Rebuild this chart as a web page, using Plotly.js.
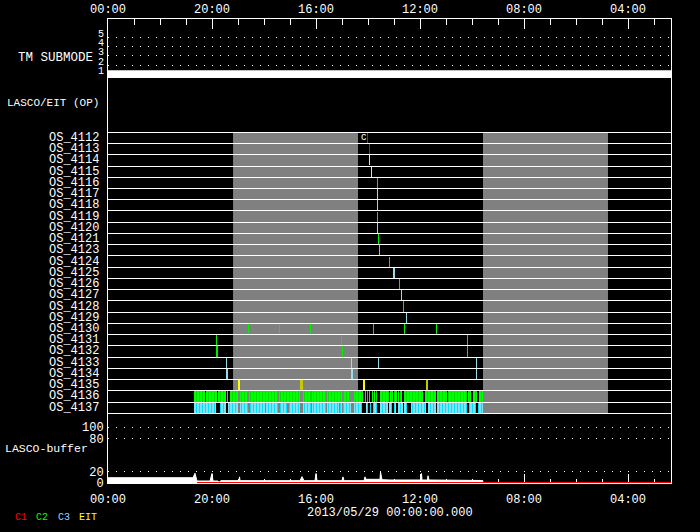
<!DOCTYPE html>
<html><head><meta charset="utf-8">
<script src="https://cdn.plot.ly/plotly-3.0.1.min.js"></script>
<style>html,body{margin:0;padding:0;background:#000;}#chart{width:700px;height:532px;}</style>
</head><body><div id="chart"></div>
<script>
// ---------------- data ----------------
const xTickVals = [24, 20, 16, 12, 8, 4];
const xTickText = ['00:00', '20:00', '16:00', '12:00', '08:00', '04:00'];
const dateLabel = '2013/05/29 00:00:00.000';

const tmTimes = [24, 0];
const tmValues = [1, 1];
const tmTickVals = [1, 2, 3, 4, 5];

const osRows = ['OS_4112','OS_4113','OS_4114','OS_4115','OS_4116','OS_4117','OS_4118','OS_4119',
  'OS_4120','OS_4121','OS_4123','OS_4124','OS_4125','OS_4126','OS_4127','OS_4128','OS_4129',
  'OS_4130','OS_4131','OS_4132','OS_4133','OS_4134','OS_4135','OS_4136','OS_4137'];

// shaded intervals (hours)
const grayStart = [19.19, 9.577];
const grayEnd = [14.385, 4.77];

// single observations: row, time (hours), duration (minutes)
const c1Rows = ['OS_4112', 'OS_4113'];
const c1Times = [14.027, 13.950];
const c1Dur = [2.5, 2.5];

const eitRows = ['OS_4114', 'OS_4115', 'OS_4135', 'OS_4135'];
const eitTimes = [13.950, 13.873, 18.973, 14.154];
const eitDur = [2.5, 2.5, 4, 4];

const eitAltRows = ['OS_4123', 'OS_4135', 'OS_4135'];
const eitAltTimes = [13.565, 16.565, 11.730];
const eitAltDur = [2.5, 6, 5];

const c2Rows = ['OS_4116','OS_4119','OS_4121','OS_4124','OS_4126','OS_4128',
  'OS_4130','OS_4130','OS_4130','OS_4130','OS_4130','OS_4130',
  'OS_4131','OS_4131','OS_4131','OS_4132','OS_4132','OS_4132'];
const c2Times = [13.642, 13.642, 13.604, 13.181, 12.796, 12.642,
  18.604, 17.412, 16.219, 13.796, 12.604, 11.373,
  19.835, 15.027, 10.181, 19.819, 14.988, 10.181];
const c2Dur = [2.5,2.5,2.5,2.5,2.5,2.5, 2.5,2.5,2.5,2.5,2.5,2.5, 2.5,2.5,2.5, 4,2.5,2.5];

const c3Rows = ['OS_4117','OS_4118','OS_4120','OS_4125','OS_4127','OS_4129',
  'OS_4133','OS_4133','OS_4133','OS_4133','OS_4134','OS_4134','OS_4134'];
const c3Times = [13.642, 13.642, 13.642, 13.000, 12.719, 12.527,
  19.450, 14.642, 13.604, 9.835, 19.423, 14.615, 9.819];
const c3Dur = [2.5,2.5,2.5,3.5,2.5,2.5, 2.5,2.5,2.5,2.5, 4,4,2.5];

// continuous sequences (hours start -> end)
const c2BlockRow = 'OS_4136';
const c2BlockStart = [20.692,20.231,19.769,19.423,19.319,18.935,18.577,18.385,17.912,17.423,
  16.488,16.154,15.577,14.950,14.550,14.115,14.038,13.973,13.858,13.781,13.692,13.538,13.142,
  13.012,12.846,12.769,12.615,11.808,11.335,10.923,10.154,9.973,9.731];
const c2BlockEnd = [20.281,19.819,19.473,19.373,19.000,18.615,18.423,17.935,17.462,16.615,
  16.192,15.615,15.000,14.692,14.204,14.077,14.000,13.935,13.819,13.731,13.654,13.204,13.038,
  12.873,12.796,12.681,11.873,11.396,10.973,10.204,10.027,9.796,9.588];

const c3BlockRow = 'OS_4137';
const c3BlockStart = [20.692,19.704,19.385,18.935,18.550,17.912,17.396,17.027,16.488,16.154,
  15.577,15.077,14.950,14.550,14.077,13.912,13.796,13.538,13.181,13.000,12.846,12.615,12.335,
  11.704,11.335,10.115,9.769];
const c3BlockEnd = [19.858,19.473,19.000,18.615,17.973,17.462,17.131,16.615,16.192,15.615,
  15.127,15.000,14.642,14.231,13.988,13.873,13.665,13.231,13.077,12.923,12.665,12.512,11.781,
  11.396,10.181,9.858,9.588];

// LASCO buffer
const bufTimes = [24.0, 20.731, 20.654, 20.596, 20.577, 20.077, 20.0, 19.962, 19.769, 19.731,
  19.654, 18.962, 18.942, 18.923, 16.615, 16.538, 16.462, 16.038, 16.0, 15.962, 15.0, 14.962, 14.923,
  14.154, 14.115, 14.077, 13.538, 13.519, 13.462, 13.154, 11.962, 11.942, 11.923, 11.712, 11.692, 11.654,
  10.462, 10.077, 9.588, 9.577];
const bufValues = [9.5, 9.5, 17.4, 9, 3.6, 3.6, 17, 3.6, 3.6, 1.2,
  4.2, 4.2, 11, 4.2, 4.2, 11.4, 4.2, 4.2, 17, 4.2, 4.2, 11, 4.2,
  4.2, 11, 6.6, 6.6, 19.7, 6, 5.4, 5.4, 17, 5.4, 5.4, 13, 5.4,
  5.4, 5, 4.5, 0];
const c1BufTimes = [20.58, 0];
const c1BufValues = [0, 0];
const bufTickVals = [0, 20, 80, 100];

const legendLabels = ['C1', 'C2', 'C3', 'EIT'];
const legendColors = ['#ff0000', '#00ff00', '#a0d8f0', '#ffff00'];

// ---------------- drawing ----------------
const FONT = 'Liberation Mono, DejaVu Sans Mono, monospace';
const MARK_H = 0.9;
const rowIdx = r => osRows.indexOf(r);

function markTrace(rows, times, dur, color) {
  return {
    type: 'bar', xaxis: 'x2', yaxis: 'y2',
    x: times, y: rows.map(() => MARK_H), base: rows.map(r => rowIdx(r) - MARK_H / 2),
    width: dur.map(d => d / 60),
    marker: {color: color, line: {width: 0}},
    hoverinfo: 'skip', showlegend: false
  };
}
function blockTrace(row, starts, ends, pattern) {
  return {
    type: 'bar', xaxis: 'x2', yaxis: 'y2',
    x: starts.map((s, i) => (s + ends[i]) / 2),
    y: starts.map(() => MARK_H),
    base: starts.map(() => rowIdx(row) - MARK_H / 2),
    width: starts.map((s, i) => s - ends[i]),
    marker: {color: pattern.bgcolor, line: {width: 0}, pattern: pattern},
    hoverinfo: 'skip', showlegend: false
  };
}

const traces = [
  {type: 'scatter', mode: 'lines', x: tmTimes, y: tmValues, xaxis: 'x', yaxis: 'y',
   line: {color: '#ffffff', width: 8}, hoverinfo: 'skip', showlegend: false},
  blockTrace(c2BlockRow, c2BlockStart, c2BlockEnd,
    {shape: '|', size: 3, solidity: 0.25, fgcolor: '#00d400', bgcolor: '#00ff00', fillmode: 'replace'}),
  blockTrace(c3BlockRow, c3BlockStart, c3BlockEnd,
    {shape: '|', size: 3, solidity: 0.5, fgcolor: '#00e0ff', bgcolor: '#a8e6f2', fillmode: 'replace'}),
  markTrace(c1Rows, c1Times, c1Dur, 'rgba(255,0,0,0.99)'),
  markTrace(eitRows, eitTimes, eitDur, 'rgba(255,255,0,0.99)'),
  markTrace(eitAltRows, eitAltTimes, eitAltDur, 'rgba(200,200,0,0.99)'),
  markTrace(c2Rows, c2Times, c2Dur, 'rgba(0,240,0,0.99)'),
  markTrace(c3Rows, c3Times, c3Dur, 'rgba(150,222,242,0.99)'),
  {type: 'scatter', mode: 'lines', x: bufTimes, y: bufValues, xaxis: 'x2', yaxis: 'y3',
   fill: 'tozeroy', fillcolor: '#ffffff', line: {color: '#ffffff', width: 1},
   hoverinfo: 'skip', showlegend: false},
  {type: 'scatter', mode: 'lines', x: c1BufTimes, y: c1BufValues, xaxis: 'x2', yaxis: 'y3',
   line: {color: '#ff0000', width: 2}, hoverinfo: 'skip', showlegend: false}
];

const rowBoundaries = osRows.map((r, i) => i - 0.5).concat([osRows.length - 0.5]);

const shapes = grayStart.map((s, i) => ({
  type: 'rect', xref: 'x2', yref: 'y2', x0: s, x1: grayEnd[i],
  y0: -0.5, y1: osRows.length - 0.5,
  fillcolor: '#808080', line: {width: 0}, layer: 'below'
}));

const annotations = [];
osRows.forEach((r, i) => annotations.push({
  text: r, xref: 'paper', x: 0, xanchor: 'right', xshift: -7,
  yref: 'y2', y: i, yanchor: 'middle', showarrow: false,
  font: {family: FONT, size: 12, color: '#ffffff'}
}));
annotations.push({text: 'C', xref: 'x2', x: 14.135, yref: 'y2', y: rowIdx('OS_4112'),
  xanchor: 'center', yanchor: 'middle', showarrow: false,
  font: {family: FONT, size: 9, color: '#ffffff'}});
annotations.push({text: 'TM SUBMODE', xref: 'paper', x: 0, xanchor: 'right', xshift: -13,
  yref: 'paper', y: 0.916, yanchor: 'middle', showarrow: false,
  font: {family: FONT, size: 12.5, color: '#ffffff'}});
annotations.push({text: 'LASCO/EIT (OP)', xref: 'paper', x: 0, xanchor: 'right', xshift: -7,
  yref: 'paper', y: 0.819, yanchor: 'middle', showarrow: false,
  font: {family: FONT, size: 11, color: '#ffffff'}});
annotations.push({text: 'LASCO-buffer', xref: 'paper', x: 0, xanchor: 'right', xshift: -18,
  yref: 'paper', y: 0.0733, yanchor: 'middle', showarrow: false,
  font: {family: FONT, size: 11.5, color: '#ffffff'}});
annotations.push({text: dateLabel, xref: 'paper', x: 0.5, xanchor: 'center',
  yref: 'paper', y: -0.0647, yanchor: 'middle', showarrow: false,
  font: {family: FONT, size: 12, color: '#ffffff'}});
const legendShift = [-95, -74, -52, -31];
legendLabels.forEach((t, i) => annotations.push({
  text: t, xref: 'paper', x: 0, xanchor: 'left', xshift: legendShift[i],
  yref: 'paper', y: -0.0733, yanchor: 'middle', showarrow: false,
  font: {family: FONT, size: 10, color: legendColors[i]}
}));

const xCommon = {
  range: [24, 2.346], tickmode: 'array', tickvals: xTickVals, ticktext: xTickText,
  ticks: 'inside', tickwidth: 1, tickcolor: '#ffffff',
  showline: true, linecolor: '#ffffff', linewidth: 1, showgrid: false, zeroline: false,
  tickfont: {family: FONT, size: 12, color: '#ffffff'}, fixedrange: true
};

const layout = {
  width: 700, height: 532,
  paper_bgcolor: '#000000', plot_bgcolor: 'rgba(0,0,0,0)',
  margin: {l: 108, r: 29, t: 19, b: 49},
  showlegend: false, barmode: 'overlay', bargap: 0, bargroupgap: 0,
  font: {family: FONT, size: 12, color: '#ffffff'},
  xaxis: Object.assign({}, xCommon, {anchor: 'y', side: 'top', ticklen: 10,
    minor: {tickmode: 'linear', tick0: 0, dtick: 1, ticks: 'inside', ticklen: 6, tickcolor: '#ffffff', showgrid: false}}),
  xaxis2: Object.assign({}, xCommon, {anchor: 'y3', side: 'bottom', ticklen: 9, layer: 'below traces',
    ticklabelstandoff: 5,
    minor: {tickmode: 'linear', tick0: 0, dtick: 1, ticks: 'inside', ticklen: 4, tickcolor: '#ffffff', showgrid: false}}),
  yaxis: {domain: [0.8728, 1], range: [0.602, 6.946], anchor: 'x',
    tickmode: 'array', tickvals: tmTickVals, ticks: '',
    showgrid: true, gridcolor: '#ffffff', gridwidth: 1, griddash: '1px,7px',
    showline: true, mirror: true, linecolor: '#ffffff', zeroline: false,
    ticklabelshift: -4, ticklabelstandoff: 1,
    tickfont: {family: FONT, size: 10, color: '#ffffff'}, fixedrange: true},
  yaxis2: {domain: [0.1473, 0.8728], range: [24.62, -5.33], anchor: 'x2',
    tickmode: 'array', tickvals: rowBoundaries, showticklabels: false, ticks: '',
    showgrid: true, gridcolor: '#ffffff', gridwidth: 1,
    showline: true, mirror: true, linecolor: '#ffffff', zeroline: false, fixedrange: true},
  yaxis3: {domain: [0, 0.1502], range: [0, 125.1], anchor: 'x2',
    tickmode: 'array', tickvals: bufTickVals, ticks: '',
    showgrid: true, gridcolor: '#ffffff', gridwidth: 1, griddash: '1px,7px',
    showline: true, mirror: true, linecolor: '#ffffff', zeroline: false,
    ticklabelstandoff: 1,
    tickfont: {family: FONT, size: 12, color: '#ffffff'}, fixedrange: true},
  shapes: shapes,
  annotations: annotations
};

Plotly.newPlot('chart', traces, layout, {staticPlot: true, displayModeBar: false});
</script>
</body></html>
